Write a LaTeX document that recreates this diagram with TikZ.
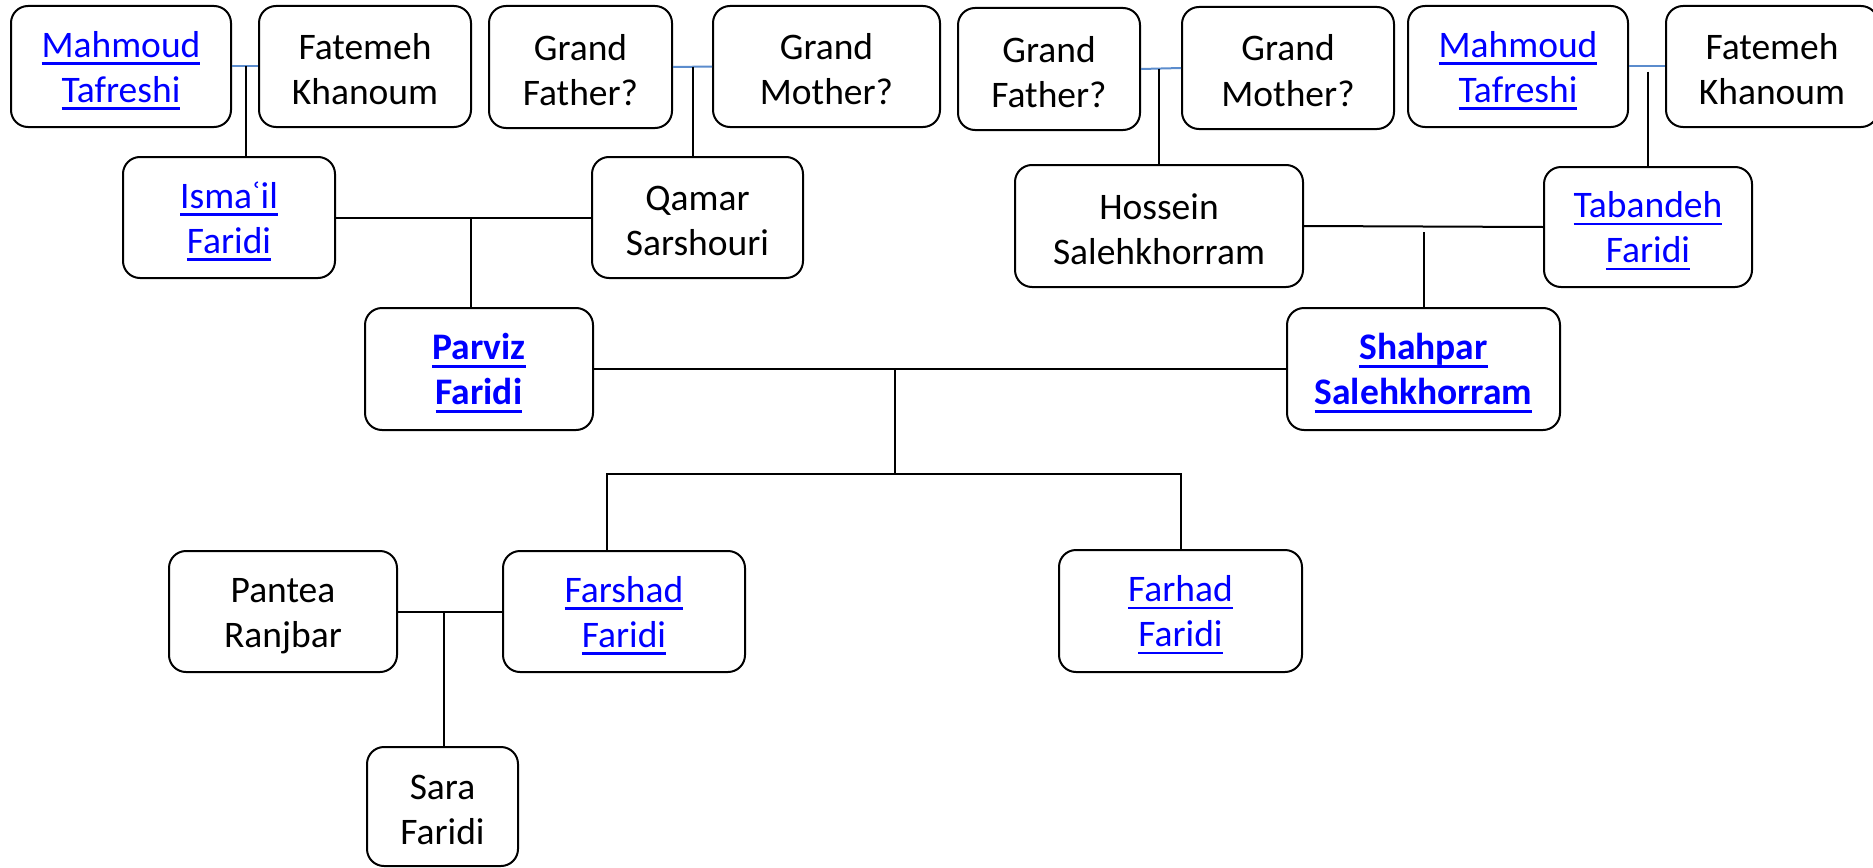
\documentclass[tikz,border=0pt]{standalone}
\usepackage{fontspec}
\setmainfont{Carlito}
\usetikzlibrary{calc}
\definecolor{linkblue}{RGB}{0,0,255}
\definecolor{coupleblue}{RGB}{91,140,205}
\newcommand\sst{\rule[-3pt]{0pt}{37pt}}
\newcommand\lnkw[1]{{\color{linkblue}\setbox0\hbox{#1}\rlap{\rule[-7.5pt]{\wd0}{2.5pt}}\box0}}
\newcommand\lnkb[1]{{\color{linkblue}\setbox0\hbox{\bfseries #1}\rlap{\rule[-8pt]{\wd0}{3pt}}\box0}}
\begin{document}
\begin{tikzpicture}[x=1pt,y=-1pt,
  person/.style={draw=black,line width=2pt,rounded corners=17pt,fill=white,
    inner sep=0pt,align=center,minimum height=121pt,
    font=\fontsize{37.5}{45}\selectfont},
  conn/.style={draw=black,line width=2pt},
  couple/.style={draw=coupleblue,line width=2pt}]
\useasboundingbox (0,0) rectangle (1873,867);
% top row
\node[person,minimum width=220pt] (m1) at (121,66.5) {\sst\lnkw{Mahmoud}\\\sst\lnkw{Tafreshi}};
\node[person,minimum width=212pt] (f1) at (365,66.5) {\sst Fatemeh\\\sst Khanoum};
\node[person,minimum width=183pt,minimum height=122pt] (gf1) at (580.5,67) {\sst Grand\\\sst Father?};
\node[person,minimum width=227pt] (gm1) at (826.5,66.5) {\sst Grand\\\sst Mother?};
\node[person,minimum width=182pt,minimum height=122pt] (gf2) at (1049,69) {\sst Grand\\\sst Father?};
\node[person,minimum width=212pt,minimum height=122pt] (gm2) at (1288,68) {\sst Grand\\\sst Mother?};
\node[person,minimum width=220pt] (m2) at (1518,66.5) {\sst\lnkw{Mahmoud}\\\sst\lnkw{Tafreshi}};
\node[person,minimum width=212pt] (f2) at (1772,66.5) {\sst Fatemeh\\\sst Khanoum};
% second row
\node[person,minimum width=212pt] (is) at (229,217.5) {\sst\lnkw{Isma\char"02BF il}\\\sst\lnkw{Faridi}};
\node[person,minimum width=211pt] (qa) at (697.5,217.5) {\sst Qamar\\\sst Sarshouri};
\node[person,minimum width=288pt,minimum height=122pt] (ho) at (1159,226) {\sst Hossein\\\sst Salehkhorram};
\node[person,minimum width=208pt,minimum height=120pt] (ta) at (1648,227) {\sst\lnkw{Tabandeh}\\\sst\lnkw{Faridi}};
% third row
\node[person,minimum width=228pt,minimum height=122pt] (pa) at (479,369) {\sst\lnkb{Parviz}\\\sst\lnkb{Faridi}};
\node[person,minimum width=273pt,minimum height=122pt] (sh) at (1423.5,369) {\sst\lnkb{Shahpar}\\\sst\lnkb{Salehkhorram}};
% fourth row
\node[person,minimum width=228pt] (pn) at (283,611.5) {\sst Pantea\\\sst Ranjbar};
\node[person,minimum width=242pt] (fs) at (624,611.5) {\sst\lnkw{Farshad}\\\sst\lnkw{Faridi}};
\node[person,minimum width=243pt,minimum height=122pt] (fh) at (1180.5,611) {\sst\lnkw{Farhad}\\\sst\lnkw{Faridi}};
% fifth row
\node[person,minimum width=151pt,minimum height=119pt] (sa) at (442.5,806.5) {\sst Sara\\\sst Faridi};
% couples (top)
\draw[couple] (m1.east) -- (f1.west) coordinate[pos=0.55] (c1);
\draw[conn] (c1) -- (c1 |- is.north);
\draw[couple] (gf1.east) -- (gm1.west) coordinate[pos=0.52] (c2);
\draw[conn] (c2) -- (c2 |- qa.north);
\draw[couple] (gf2.east) -- (gm2.west) coordinate[pos=0.45] (c3);
\draw[conn] (c3) -- (c3 |- ho.north);
\draw[couple] (m2.east) -- (f2.west) coordinate[pos=0.52] (c4);
\draw[conn] ($(c4)+(0,5)$) -- (c4 |- ta.north);
% second generation couples
\draw[conn] (is.east) -- (qa.west) coordinate[pos=0.529] (c5);
\draw[conn] (c5) -- (c5 |- pa.north);
\draw[conn] (ho.east) -- (ta.west);
\draw[conn] (sh.north) -- ++(0,-75);
% parents
\draw[conn] (pa.east) -- (sh.west) coordinate[pos=0.435] (c6);
\coordinate (bar) at ($(c6)+(0,105)$);
\draw[conn] (c6) -- (bar);
\draw[conn] ($(fs.north)+(-17,0)$) |- (bar) -| (fh.north);
% Farshad couple
\draw[conn] (pn.east) -- (fs.west) coordinate[pos=0.44] (c7);
\draw[conn] (c7) -- (c7 |- sa.north);
\end{tikzpicture}
\end{document}
